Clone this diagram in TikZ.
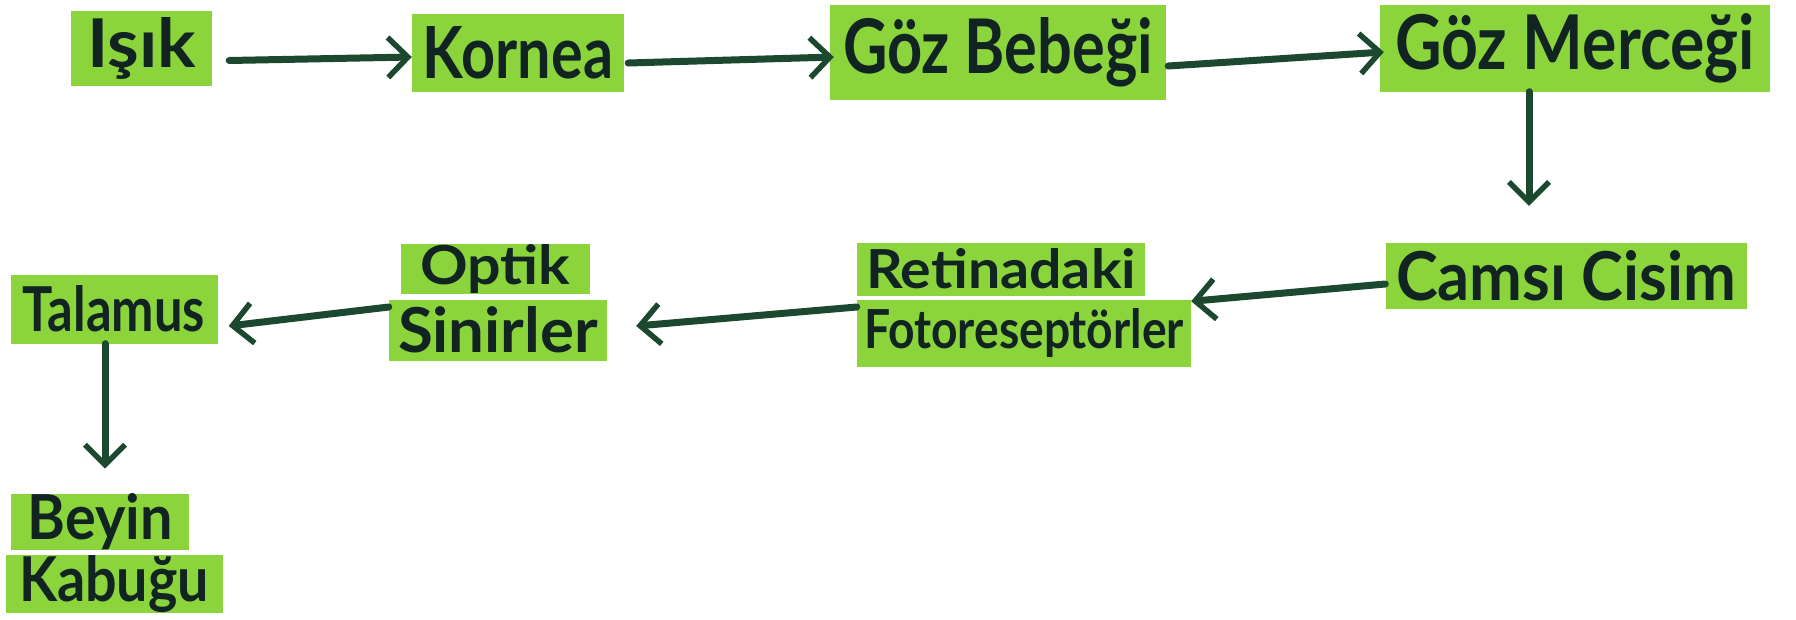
\documentclass[tikz,border=0pt]{standalone}
\usepackage{fontspec}
\setmainfont{Lato}
\usepackage{graphicx}
\usetikzlibrary{arrows.meta,calc}
\definecolor{hl}{RGB}{139,212,60}
\definecolor{ink}{RGB}{18,36,34}
\definecolor{arrowc}{RGB}{28,72,48}
\newcommand{\fw}[3]{\resizebox{#1pt}{#2pt}{#3}}
\tikzset{
  hlbox/.style={fill=hl, inner sep=0pt, text=ink, font=\bfseries\fontsize{50}{50}\selectfont, anchor=center},
  arr/.style={draw=arrowc, line width=7pt, line cap=round, line join=round,
    -{Straight Barb[length=20pt,width=40pt,line width=5.5pt]}}
}
\begin{document}
\begin{tikzpicture}[x=1pt,y=-1pt]
\useasboundingbox[fill=white] (0,0) rectangle (1796,619);
% top row
\node[hlbox, minimum width=141pt, minimum height=75pt] (isik) at (141.5,48.5) {\fw{109}{50}{Işık}};
\node[hlbox, minimum width=212pt, minimum height=78pt] (kornea) at (518,53) {\fw{190}{52}{Kornea}};
\node[hlbox, minimum width=336pt, minimum height=95pt] (bebek) at (998,52) {\fw{310}{56}{Göz Bebeği}};
\node[hlbox, minimum width=390pt, minimum height=87pt] (mercek) at (1575,48) {\fw{360}{56}{Göz Merceği}};
% second row
\node[hlbox, minimum width=361pt, minimum height=66pt] (cams) at (1566,276) {\fw{340}{50}{Camsı Cisim}};
\node[hlbox, minimum width=288pt, minimum height=53pt] (retina) at (1001,269) {\fw{270}{40}{Retinadaki}};
\node[hlbox, minimum width=334pt, minimum height=67pt] (foto) at (1024,333) {\fw{320}{40}{Fotoreseptörler}};
\node[hlbox, minimum width=189pt, minimum height=46pt] (optik) at (495,269) {\fw{150}{40}{Optik}};
\node[hlbox, minimum width=218pt, minimum height=61pt] (sinir) at (498,330) {\fw{200}{46}{Sinirler}};
\node[hlbox, minimum width=207pt, minimum height=69pt] (talamus) at (114,309) {\fw{182}{46}{Talamus}};
% third row
\node[hlbox, minimum width=178pt, minimum height=55pt] (beyin) at (100,522) {\fw{145}{46}{Beyin}};
\node[hlbox, minimum width=217pt, minimum height=57pt] (kabugu) at (114,584) {\fw{190}{46}{Kabuğu}};
% connectors
\draw[arr] ($(isik.east)+(17,12)$) -- ($(kornea.west)+(0,4)$);
\draw[arr] ($(kornea.east)+(4,10)$) -- ($(bebek.west)+(4,5)$);
\draw[arr] ($(bebek.east)+(2,14)$) -- ($(mercek.west)+(4,4)$);
\draw[arr] ($(mercek.south)+(-46,0)$) -- ($(cams.north)+(-37,-37)$);
\draw[arr] ($(cams.west)+(0,8)$) -- ($(foto.north east)+(0,2)$);
\draw[arr] ($(foto.west)+(0,-26)$) -- ($(sinir.east)+(29,-4)$);
\draw[arr] ($(sinir.west)+(0,-23)$) -- ($(talamus.east)+(11,17)$);
\draw[arr] ($(talamus.south)+(-9,0)$) -- ($(beyin.north)+(5,-25)$);
\end{tikzpicture}
\end{document}
